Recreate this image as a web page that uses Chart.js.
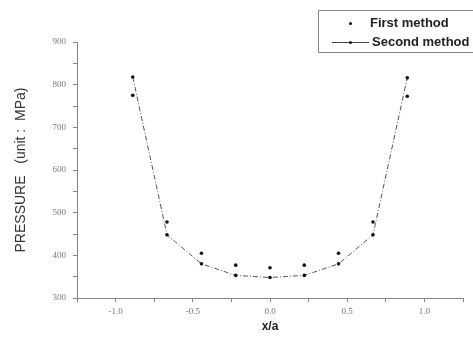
<!DOCTYPE html>
<html>
<head>
<meta charset="utf-8">
<script src="https://cdn.jsdelivr.net/npm/chart.js@4.4.1/dist/chart.umd.min.js"></script>
<style>
  body { margin: 0; overflow: hidden; background: #fff; }
  #wrap { position: relative; width: 473px; height: 337px; }
  #legend {
    position: absolute; left: 318px; top: 10px; width: 170px; height: 41px;
    border: 1px solid #888; font: bold 13px "Liberation Sans", Arial, sans-serif; color: #222;
  }
  #legend .row { position: absolute; left: 0; height: 16px; line-height: 16px; }
  #legend .dot { position: absolute; width: 3px; height: 3px; background: #111; border-radius: 50%; }
  #legend .ln { position: absolute; height: 0; border-top: 1px solid #444; }
</style>
</head>
<body>
<div id="wrap">
  <canvas id="chart"></canvas>
  <div id="legend">
    <div class="dot" style="left:30px; top:11px;"></div>
    <div class="row" style="left:51px; top:4px;">First method</div>
    <div class="ln" style="left:13px; top:31px; width:37px;"></div>
    <div class="dot" style="left:30px; top:30px;"></div>
    <div class="row" style="left:53px; top:23px;">Second method</div>
  </div>
</div>
<script>
// values
const xPos = [-0.889, -0.667, -0.444, -0.222, 0, 0.222, 0.444, 0.667, 0.889];
const firstMethod = [775, 478, 405, 377, 371, 377, 405, 478, 773];
const secondMethod = [818, 448, 380, 353, 348, 353, 380, 448, 816];
const yTickLabels = ['300', '400', '500', '600', '700', '800', '900'];
const xTickLabels = ['-1.0', '-0.5', '0.0', '0.5', '1.0'];

function toPoints(ys) {
  return xPos.map((x, i) => ({ x: x, y: ys[i] }));
}

const ctx = document.getElementById('chart').getContext('2d');
const tickFont = { family: '"Liberation Serif", serif', size: 9 };

new Chart(ctx, {
  type: 'scatter',
  data: {
    datasets: [{
      label: 'First method',
      data: toPoints(firstMethod),
      showLine: false,
      pointRadius: 1.8,
      pointBackgroundColor: '#111',
      pointBorderWidth: 0
    }, {
      label: 'Second method',
      data: toPoints(secondMethod),
      showLine: true,
      borderColor: '#555',
      borderWidth: 1,
      borderDash: [5, 2, 1, 2],
      pointRadius: 1.8,
      pointBackgroundColor: '#111',
      pointBorderWidth: 0
    }]
  },
  options: {
    responsive: true,
    maintainAspectRatio: false,
    animation: false,
    layout: { padding: { top: 42, right: 10, bottom: 0, left: 0 } },
    plugins: { legend: { display: false }, tooltip: { enabled: false } },
    scales: {
      x: {
        type: 'linear',
        min: -1.25,
        max: 1.25,
        afterFit: function(scale) { scale.height = 39; },
        border: { color: '#888', width: 1 },
        grid: { drawOnChartArea: false, tickLength: 4, tickColor: '#888' },
        ticks: {
          stepSize: 0.25,
          autoSkip: false,
          maxRotation: 0,
          padding: 4,
          color: '#777',
          font: tickFont,
          callback: function(v) {
            const i = Math.round(v * 2) + 2;
            return Math.abs(v * 2 - Math.round(v * 2)) < 1e-6 && xTickLabels[i] ? xTickLabels[i] : '';
          }
        },
        title: {
          display: true,
          text: 'x/a',
          color: '#222',
          font: { family: '"Liberation Sans", Arial, sans-serif', size: 12, weight: 'bold' },
          padding: { top: 0, bottom: 3 }
        }
      },
      y: {
        min: 300,
        max: 900,
        afterFit: function(scale) { scale.width = 77; },
        border: { color: '#888', width: 1 },
        grid: { drawOnChartArea: false, tickLength: 4, tickColor: '#888' },
        ticks: {
          stepSize: 50,
          padding: 7,
          color: '#777',
          font: tickFont,
          callback: function(v) {
            return v % 100 === 0 ? yTickLabels[(v - 300) / 100] : '';
          }
        },
        title: {
          display: true,
          text: 'PRESSURE   (unit :  MPa)',
          color: '#333',
          font: { family: '"Liberation Sans", Arial, sans-serif', size: 14 },
          padding: { top: 13, bottom: 0 }
        }
      }
    }
  }
});
</script>
</body>
</html>
